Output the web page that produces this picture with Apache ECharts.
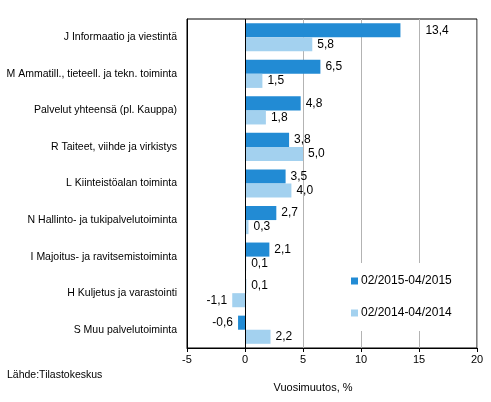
<!DOCTYPE html>
<html><head><meta charset="utf-8">
<script src="https://cdn.jsdelivr.net/npm/echarts@6/dist/echarts.min.js"></script>
<style>html,body{margin:0;padding:0;background:#fff}#c{width:491px;height:402px}</style>
</head><body><div id="c"></div>
<script>
var categories = [
  "J Informaatio ja viestintä",
  "M Ammatill., tieteell. ja tekn. toiminta",
  "Palvelut yhteensä (pl. Kauppa)",
  "R Taiteet, viihde ja virkistys",
  "L Kiinteistöalan toiminta",
  "N Hallinto- ja tukipalvelutoiminta",
  "I Majoitus- ja ravitsemistoiminta",
  "H Kuljetus ja varastointi",
  "S Muu palvelutoiminta"
];
var seriesNames = ["02/2015-04/2015", "02/2014-04/2014"];
var values2015 = [13.4, 6.5, 4.8, 3.8, 3.5, 2.7, 2.1, 0.1, -0.6];
var values2014 = [5.8, 1.5, 1.8, 5.0, 4.0, 0.3, 0.1, -1.1, 2.2];
var xTicks = [-5, 0, 5, 10, 15, 20];

var FONT = "Liberation Sans, Arial, sans-serif";
function fmt(v){ return v.toFixed(1).replace('.', ','); }
function mk(vals){
  return vals.map(function(v, i){
    return {value: v, label: {position: v < 0 ? 'left' : 'right'}};
  });
}
var d2015 = mk(values2015);
d2015[0].label.distance = 25;

var chart = echarts.init(document.getElementById('c'));
chart.setOption({
  animation: false,
  textStyle: {fontFamily: FONT},
  grid: {left: 187, right: 14, top: 19, bottom: 54, show: true, borderColor: '#000', borderWidth: 1, backgroundColor: 'transparent'},
  legend: {
    orient: 'vertical', left: 345, top: 263,
    padding: [12, 14, 12, 6], itemGap: 20,
    itemWidth: 7, itemHeight: 7, icon: 'rect',
    backgroundColor: '#fff',
    textStyle: {fontSize: 12, color: '#000', fontFamily: FONT, padding: [0, 0, 0, -2]},
    data: seriesNames
  },
  xAxis: {
    type: 'value', min: xTicks[0], max: xTicks[xTicks.length-1], interval: 5,
    axisLine: {show: true, lineStyle: {color: '#000'}},
    axisTick: {show: true, length: 4, lineStyle: {color: '#000'}},
    axisLabel: {color: '#000', fontSize: 11, margin: 6, fontFamily: FONT, formatter: function(v){ return String(v); }},
    splitLine: {show: true, lineStyle: {color: '#b3b3b3', width: 1}},
    name: 'Vuosimuutos, %', nameLocation: 'middle', nameGap: 34,
    nameTextStyle: {color: '#000', fontSize: 11, fontFamily: FONT, padding: [0, 38, 0, 0]}
  },
  yAxis: {
    type: 'category', data: categories, inverse: true,
    axisLine: {show: true, onZero: false, lineStyle: {color: '#000'}},
    axisTick: {show: false},
    axisLabel: {color: '#000', fontSize: 10.5, margin: 10, fontFamily: FONT},
    splitLine: {show: false}
  },
  series: [
    {
      name: seriesNames[0], type: 'bar', data: d2015,
      itemStyle: {color: '#228bd4'},
      barGap: '0%', barCategoryGap: '23%',
      label: {show: true, color: '#000', fontSize: 12, fontFamily: FONT, distance: 5, formatter: function(p){ return fmt(p.value); }},
      markLine: {
        silent: true, symbol: 'none', label: {show: false},
        lineStyle: {color: '#000', type: 'solid', width: 1},
        data: [{xAxis: 0}]
      }
    },
    {
      name: seriesNames[1], type: 'bar', data: mk(values2014),
      itemStyle: {color: '#a3d1ef'},
      barGap: '0%', barCategoryGap: '23%',
      label: {show: true, color: '#000', fontSize: 12, fontFamily: FONT, distance: 5, formatter: function(p){ return fmt(p.value); }}
    }
  ],
  graphic: [{
    type: 'text', left: 7, top: 370,
    style: {text: 'Lähde:Tilastokeskus', fill: '#000', font: '10.5px ' + FONT}
  }]
});
</script>
</body></html>
